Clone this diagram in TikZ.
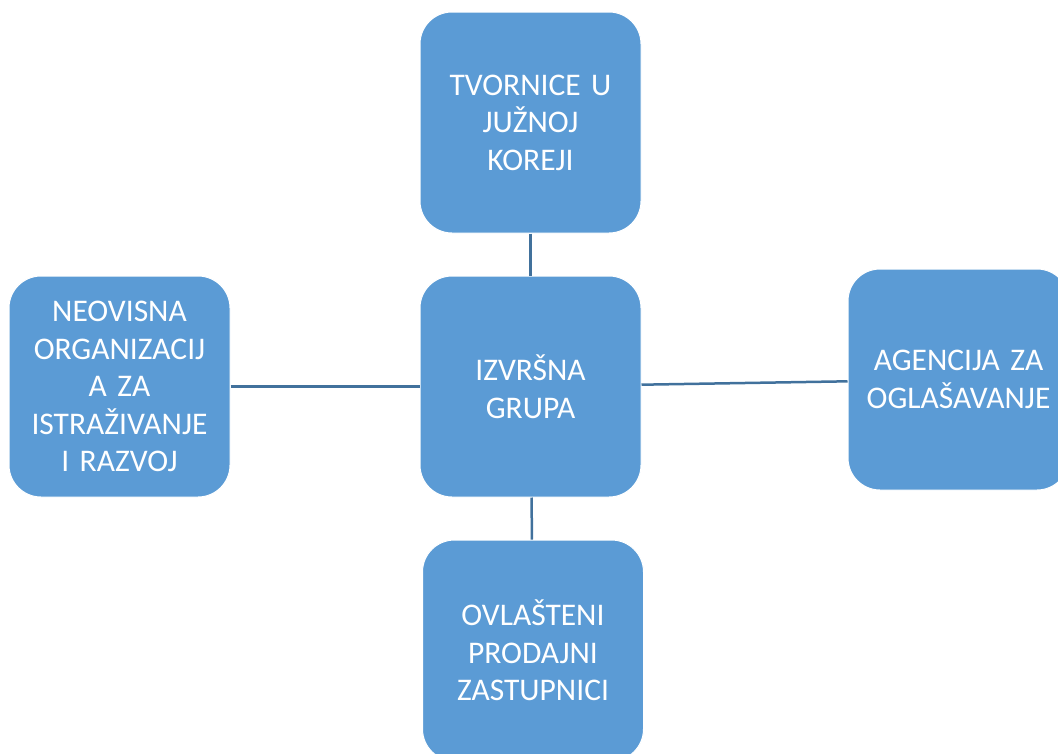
\documentclass[tikz,border=0pt]{standalone}
\usepackage{fontspec}
\setmainfont{Carlito}
\usetikzlibrary{positioning}
\definecolor{boxblue}{HTML}{5B9BD5}
\definecolor{linkblue}{HTML}{41719C}
\begin{document}
\begin{tikzpicture}[-,line width=2.5pt,draw=linkblue,node distance=42pt,
  unit node/.style={rectangle,rounded corners=32pt,fill=boxblue,draw=white,line width=1pt,
    minimum width=221pt,minimum height=221pt,inner sep=0pt,text width=210pt,align=center,
    text=white,font=\fontsize{31.5}{37.5}\selectfont}]

  \clip (0pt,0pt) rectangle (1058pt,-753pt);

  \node[unit node] (G) at (530.5pt,-386.5pt) {IZVRŠNA\\GRUPA};
  \node[unit node] (T) [above=of G] {TVORNICE U\\JUŽNOJ\\KOREJI};
  \node[unit node] (Z) [below=of G, xshift=2.5pt] {OVLAŠTENI\\PRODAJNI\\ZASTUPNICI};
  \node[unit node] (N) [left=189pt of G] {NEOVISNA\\ORGANIZACIJ\\A ZA\\ISTRAŽIVANJE\\I RAZVOJ};
  \node[unit node] (A) [right=206pt of G, yshift=7pt] {AGENCIJA ZA\\OGLAŠAVANJE};

  \path[draw=linkblue]
    (T) edge (G)
    (G) edge (Z)
    (N) edge (G)
    (G) edge (A);
\end{tikzpicture}
\end{document}
